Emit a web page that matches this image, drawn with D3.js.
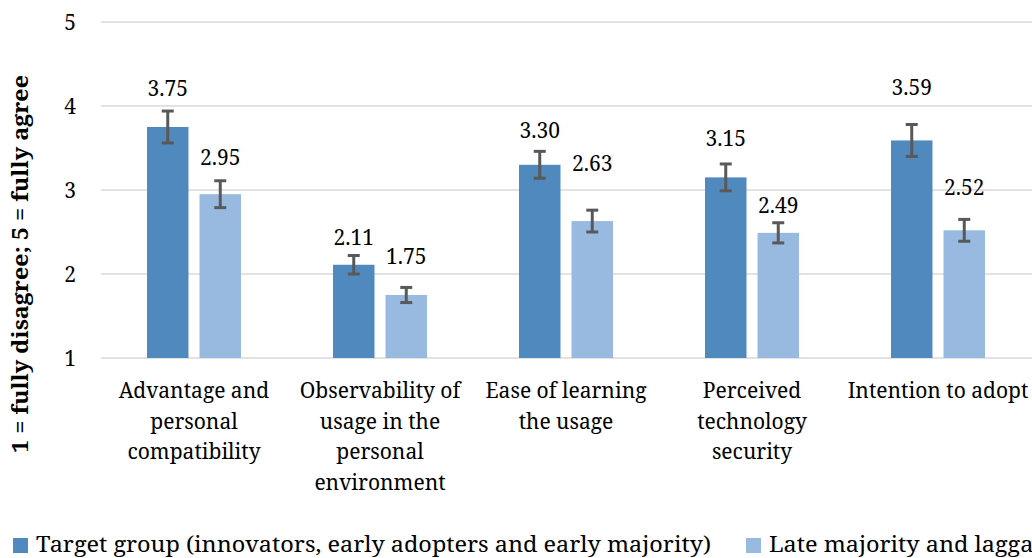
<!DOCTYPE html>
<html lang="en">
<head>
    <meta charset="UTF-8">
    <title>Adoption factors</title>
    <script src="https://d3js.org/d3.v7.min.js"></script>
    <style>
        body {
            margin: 0;
            background: white;
            overflow: hidden;
        }
    </style>
</head>
<body>
<svg id="viz"></svg>
<script>
    var categories = ["Advantage and\npersonal\ncompatibility",
        "Observability of\nusage in the\npersonal\nenvironment",
        "Ease of learning\nthe usage",
        "Perceived\ntechnology\nsecurity",
        "Intention to adopt"];
    var seriesNames = ["Target group (innovators, early adopters and early majority)",
        "Late majority and laggards"];
    var targetValues = [3.75, 2.11, 3.30, 3.15, 3.59];
    var lateValues = [2.95, 1.75, 2.63, 2.49, 2.52];
    var targetErrors = [0.19, 0.11, 0.16, 0.16, 0.19];
    var lateErrors = [0.16, 0.09, 0.13, 0.12, 0.13];
    var yTicks = [1, 2, 3, 4, 5];

    var width = 1032, height = 558;
    var FONT = "'Noto Serif', 'Liberation Serif', serif";
    var colors = ["#4f89bd", "#98b9e0"];
    // labels were hand placed in the original, pixels above the bar top
    var labelNudge = [[38, 37], [27, 38], [34, 57], [39, 27], [53, 43]];

    var svg = d3.select("#viz")
        .attr("width", width)
        .attr("height", height)
        .style("font-family", FONT);

    var y = d3.scaleLinear()
        .domain([1, 5])
        .range([358, 22]);

    var x0 = d3.scaleBand()
        .domain(d3.range(categories.length))
        .range([101, 1031])
        .paddingInner(0.4946)
        .paddingOuter(0.2473);

    var x1 = d3.scaleBand()
        .domain([0, 1])
        .range([0, x0.bandwidth()])
        .paddingInner(0.21);

    // gridlines
    svg.append("g")
        .selectAll("line")
        .data(yTicks)
        .enter()
        .append("line")
        .attr("x1", 101)
        .attr("x2", 1032)
        .attr("y1", function (d) { return y(d); })
        .attr("y2", function (d) { return y(d); })
        .attr("stroke", "#d9d9d9")
        .attr("stroke-width", 1.5);

    var yAxis = d3.axisLeft(y)
        .tickValues(yTicks)
        .tickSize(0)
        .tickPadding(0)
        .tickFormat(d3.format("d"));
    var gy = svg.append("g")
        .attr("transform", "translate(76,0)")
        .call(yAxis)
        .attr("font-family", null);
    gy.select(".domain").remove();
    gy.selectAll("text")
        .style("font-family", FONT)
        .style("font-size", "21px")
        .attr("fill", "#000")
        .attr("dy", "0.35em");

    // axis title
    svg.append("text")
        .attr("transform", "translate(28,264) rotate(-90)")
        .attr("text-anchor", "middle")
        .style("font-size", "22px")
        .style("font-weight", "bold")
        .attr("textLength", 378)
        .attr("lengthAdjust", "spacingAndGlyphs")
        .text("1 = fully disagree; 5 = fully agree");

    var rows = categories.map(function (c, i) {
        return [
            {cat: i, s: 0, v: targetValues[i], e: targetErrors[i]},
            {cat: i, s: 1, v: lateValues[i], e: lateErrors[i]}
        ];
    });
    var bars = d3.merge(rows);

    var groups = svg.append("g")
        .selectAll("g")
        .data(bars)
        .enter()
        .append("g")
        .attr("transform", function (d) {
            return "translate(" + (x0(d.cat) + x1(d.s)) + ",0)";
        });

    groups.append("rect")
        .attr("x", 0)
        .attr("width", x1.bandwidth())
        .attr("y", function (d) { return y(d.v); })
        .attr("height", function (d) { return y(1) - y(d.v); })
        .attr("fill", function (d) { return colors[d.s]; });

    var bw = x1.bandwidth();
    groups.append("line")
        .attr("x1", bw / 2).attr("x2", bw / 2)
        .attr("y1", function (d) { return y(d.v + d.e); })
        .attr("y2", function (d) { return y(d.v - d.e); })
        .attr("stroke", "#595959").attr("stroke-width", 3);
    [1, -1].forEach(function (sign) {
        groups.append("line")
            .attr("x1", bw / 2 - 6).attr("x2", bw / 2 + 6)
            .attr("y1", function (d) { return y(d.v + sign * d.e); })
            .attr("y2", function (d) { return y(d.v + sign * d.e); })
            .attr("stroke", "#595959").attr("stroke-width", 3);
    });

    groups.append("text")
        .attr("x", bw / 2)
        .attr("y", function (d) { return y(d.v) - labelNudge[d.cat][d.s]; })
        .attr("dy", "0.35em")
        .attr("text-anchor", "middle")
        .style("font-size", "21px")
        .text(function (d) { return d3.format(".2f")(d.v); });

    // category labels
    var catLabels = svg.append("g")
        .selectAll("text")
        .data(categories)
        .enter()
        .append("text")
        .attr("text-anchor", "middle")
        .attr("x", function (d, i) { return x0(i) + x0.bandwidth() / 2; })
        .attr("y", 391)
        .style("font-size", "21px");
    catLabels.selectAll("tspan")
        .data(function (d) { return d.split("\n"); })
        .enter()
        .append("tspan")
        .attr("x", function () { return d3.select(this.parentNode).attr("x"); })
        .attr("dy", function (d, i) { return i === 0 ? "0.35em" : "30.5px"; })
        .text(function (d) { return d; });
    catLabels.each(function () {
        var box = this.getBBox();
        if (box.x + box.width > 1030) {
            var shift = box.x + box.width - 1030;
            var nx = +d3.select(this).attr("x") - shift;
            d3.select(this).attr("x", nx).selectAll("tspan").attr("x", nx);
        }
    });

    // legend
    var legend = svg.append("g");
    var lx = [13, 746];
    var stretch = 1;
    seriesNames.forEach(function (name, i) {
        legend.append("rect")
            .attr("x", lx[i]).attr("y", 538)
            .attr("width", 15).attr("height", 15)
            .attr("fill", colors[i]);
        var t = legend.append("text")
            .attr("x", lx[i] + 23).attr("y", 545)
            .attr("dy", "0.35em")
            .style("font-size", "21px")
            .text(name);
        if (i === 0) stretch = 675 / t.node().getComputedTextLength();
        t.attr("textLength", t.node().getComputedTextLength() * stretch)
            .attr("lengthAdjust", "spacingAndGlyphs");
    });
</script>
</body>
</html>
